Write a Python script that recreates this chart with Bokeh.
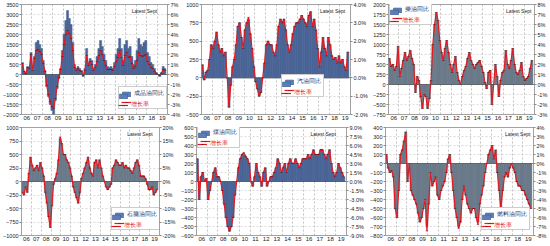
import numpy as np
from bokeh.plotting import figure
from bokeh.models import (Range1d, LinearAxis, FixedTicker, PrintfTickFormatter,
                          Legend, LegendItem, Label, Span)
from bokeh.layouts import column, row
from bokeh.embed import file_html
from bokeh.resources import INLINE

# ---------------- data (bi-monthly samples, Jan 2006 .. Sep 2019) ----------------
YEARS = list(range(2006, 2020))
YEAR_LABELS = ["06", "07", "08", "09", "10", "11", "12", "13", "14", "15", "16", "17", "18", "19"]
SERIES_NAMES = ["成品油同比", "汽油同比", "柴油同比", "石脑油同比", "煤油同比", "燃料油同比"]
RATE_NAME = "增长率"
NOTE = "Latest Sept"

p1_bars = [600, 150, 50, 400, 300, 1100,
           200, 900, 1600, 1700, 1500, 1300,
           700, 200, -600, -1100, -1500, -1800,
           -2000, -1300, -700, -200, 300, 1200,
           2000, 2700, 3200, 2800, 2500, 1600,
           500, 300, 400, 300, 200, -100,
           300, 1300, 600, 800, 700, 300,
           500, 900, 1300, 1700, 1400, 1000,
           700, 400, 350, 400, 300, 600,
           1000, 1300, 1800, 1300, 700, 1500,
           1700, 1300, 1400, 900, 500, 700,
           1200, 1800, 1500, 1400, 1600, 1700,
           1100, 900, 600, 500, 300, 100,
           0, -100, 100, 400, 300]
p1_rate = [1.1, 0.3, 0.1, 0.7, 0.6, 2.0,
           0.4, 1.6, 2.4, 2.5, 2.3, 2.0,
           1.1, 0.3, -1.1, -2.0, -2.7, -3.2,
           -3.4, -2.4, -1.2, -0.3, 0.5, 1.8,
           3.0, 4.0, 4.4, 4.1, 3.6, 2.4,
           0.7, 0.4, 0.6, 0.4, 0.3, -0.1,
           0.4, 1.9, 0.9, 1.3, 1.0, 0.4,
           0.7, 1.3, 1.9, 2.4, 2.0, 1.4,
           0.9, 0.5, 0.5, 0.5, 0.4, 0.8,
           1.3, 1.7, 2.4, 1.7, 0.9, 1.9,
           2.2, 1.7, 1.8, 1.1, 0.6, 0.8,
           1.4, 2.2, 1.9, 1.8, 1.9, 2.0,
           1.3, 1.0, 0.7, 0.6, 0.3, 0.1,
           0.0, -0.1, 0.1, 0.5, 0.4]

p2_bars = [180, -30, 80, 100, 250, 450,
           400, 500, 620, 450, 350, 400,
           300, 350, 0, -400, -100, 150,
           250, 450, 700, 750, 550, 400,
           650, 750, 800, 600, 400, 150,
           -50, -150, -250, -200, 0, 200,
           450, 500, 450, 450, 350, 300,
           450, 700, 800, 750, 800, 650,
           450, 350, 450, 600, 700, 750,
           750, 800, 850, 800, 750, 700,
           850, 900, 700, 800, 650, 400,
           150, 350, 550, 400, 300, 550,
           450, 300, 250, 280, 200, 300,
           200, 250, 150, 100, 350]
p2_rate = [0.7, -0.1, 0.3, 0.4, 1.0, 1.8,
           1.6, 2.0, 2.5, 1.8, 1.4, 1.6,
           1.2, 1.4, 0.0, -1.6, -0.4, 0.6,
           1.0, 1.8, 2.8, 3.0, 2.2, 1.6,
           2.6, 3.0, 3.3, 2.4, 1.6, 0.6,
           -0.2, -0.6, -1.0, -0.8, 0.0, 0.8,
           1.8, 2.0, 1.8, 1.8, 1.4, 1.2,
           1.8, 2.8, 3.2, 3.0, 3.2, 2.6,
           1.8, 1.4, 1.8, 2.4, 2.8, 3.0,
           3.0, 3.2, 3.4, 3.2, 3.0, 2.8,
           3.4, 3.6, 2.8, 3.2, 2.6, 1.6,
           0.6, 1.4, 2.2, 1.6, 1.2, 2.2,
           1.8, 1.2, 1.0, 1.1, 0.8, 1.2,
           0.8, 1.0, 0.6, 0.4, 1.4]

p3_bars = [650, 450, 500, 350, 450, 950,
           200, 400, 600, 800, 600, 700,
           850, 650, 500, -200, 200, 100,
           -300, -600, -250, -300, -600, -350,
           100, 1000, 1500, 1800, 1600, 1100,
           800, 600, 900, 1100, 800, 500,
           300, 500, 700, 300, 100, 0,
           200, 350, 450, 650, 800, 600,
           500, 400, 500, 550, 600, 450,
           300, 50, -100, 300, 350, -500,
           0, 500, 200, -300, 100, 300,
           350, 850, 500, 400, 600, 900,
           500, 300, 250, 350, 550, 200,
           100, 150, 200, 400, 600]
p3_rate = [2.6, 1.8, 2.0, 1.4, 1.8, 3.8,
           0.8, 1.6, 2.4, 3.2, 2.4, 2.8,
           3.4, 2.6, 2.0, -0.8, 0.8, 0.4,
           -1.2, -2.4, -1.0, -1.2, -2.4, -1.4,
           0.4, 4.0, 6.0, 7.2, 6.4, 4.4,
           3.2, 2.4, 3.6, 4.4, 3.2, 2.0,
           1.2, 2.0, 2.8, 1.2, 0.4, 0.0,
           0.8, 1.4, 1.8, 2.6, 3.2, 2.4,
           2.0, 1.6, 2.0, 2.2, 2.4, 1.8,
           1.2, 0.2, -0.4, 1.2, 1.4, -2.0,
           0.0, 2.0, 0.8, -1.2, 0.4, 1.2,
           1.4, 3.4, 2.0, 1.6, 2.4, 3.6,
           2.0, 1.2, 1.0, 1.4, 2.2, 0.8,
           0.4, 0.6, 0.8, 1.6, 2.4]

p4_bars = [-200, -250, -100, -200, 150, 450,
           300, 200, 250, 300, 200, 350,
           250, 100, -200, -400, -650, -850,
           -450, -50, 50, 150, 400, 800,
           700, 500, 500, 400, 350, 250,
           100, -100, -200, -300, -400, -200,
           50, 150, 250, 350, 450, 250,
           150, 100, 350, 400, 250, 400,
           250, 100, 0, -100, -150, -100,
           -50, 250, 300, 400, 350, 300,
           300, 350, 250, 300, 250, 250,
           200, 150, 250, 350, 400, 300,
           100, 100, 100, 50, -50, -150,
           -150, -100, -250, -200, -150]
p4_rate = [-4.0, -5.0, -2.0, -4.0, 3.0, 9.0,
           6.0, 4.0, 5.0, 6.0, 4.0, 7.0,
           5.0, 2.0, -4.0, -8.0, -13.0, -17.0,
           -9.0, -1.0, 1.0, 3.0, 8.0, 16.5,
           14.0, 10.0, 10.0, 8.0, 7.0, 5.0,
           2.0, -2.0, -4.0, -6.0, -8.0, -4.0,
           1.0, 3.0, 5.0, 7.0, 9.0, 5.0,
           3.0, 2.0, 7.0, 8.0, 5.0, 8.0,
           5.0, 2.0, 0.0, -2.0, -3.0, -2.0,
           -1.0, 5.0, 6.0, 8.0, 7.0, 6.0,
           6.0, 7.0, 5.0, 6.0, 5.0, 5.0,
           4.0, 3.0, 5.0, 7.0, 8.0, 6.0,
           2.0, 2.0, 2.0, 1.0, -1.0, -3.0,
           -3.0, -2.0, -5.0, -4.0, -3.0]

p5_bars = [250, -200, 50, 100, 0, 30,
           -200, -100, 0, 100, 150, 50,
           50, 0, -100, -250, -400, -500,
           -550, -500, -400, -150, 0, 150,
           250, 300, 300, 280, 250, 200,
           0, -50, 50, 200, 100, 50,
           -50, 100, 150, -50, 0, 50,
           50, 100, 150, 250, 200, 100,
           150, 200, 100, 200, 250, 200,
           200, 250, 200, 150, 200, 250,
           250, 250, 300, 250, 300, 350,
           300, 300, 300, 350, 350, 300,
           250, 300, 350, 200, 100, 50,
           100, 200, 150, 100, 50]
p5_rate = [3.8, -3.0, 0.8, 1.5, 0.0, 0.5,
           -3.0, -1.5, 0.0, 1.5, 2.3, 0.8,
           0.8, 0.0, -1.5, -3.8, -6.0, -7.5,
           -8.3, -7.5, -6.0, -2.3, 0.0, 2.3,
           3.8, 4.5, 4.8, 4.2, 3.8, 3.0,
           0.0, -0.8, 0.8, 3.0, 1.5, 0.8,
           -0.8, 1.5, 2.3, -0.8, 0.0, 0.8,
           0.8, 1.5, 2.3, 3.8, 3.0, 1.5,
           2.3, 3.0, 1.5, 3.0, 3.8, 3.0,
           3.0, 3.8, 3.0, 2.3, 3.0, 3.8,
           3.8, 3.8, 4.5, 3.8, 4.5, 5.3,
           4.5, 4.5, 4.5, 5.3, 5.3, 4.5,
           3.8, 4.5, 5.3, 3.0, 1.5, 0.8,
           1.5, 3.0, 2.3, 1.5, 0.8]

p6_bars = [100, -50, -100, -80, -150, -500,
           -600, -300, 100, 150, 250, 350,
           -200, 0, -300, -350, -400, -450,
           -550, -650, -600, -500, -400, -700,
           -450, -100, -250, -200, -150, -350,
           -400, -300, -250, -200, -100, 50,
           100, -100, -300, -500, -600, -700,
           -650, -400, -250, -350, -450, -500,
           -550, -500, -500, -600, -650, -450,
           -350, -250, -100, 0, 100, 150,
           200, 50, 150, -100, -300, -500,
           -300, -150, -100, -150, -50, 0,
           -50, -100, -200, -250, -250, -300,
           -300, -350, -400, -450, -500]
p6_rate = [1.0, -0.5, -1.0, -0.8, -1.5, -5.0,
           -6.0, -3.0, 1.0, 1.5, 2.5, 3.5,
           -2.0, 0.0, -3.0, -3.5, -4.0, -4.5,
           -5.5, -6.5, -6.0, -5.0, -4.0, -7.5,
           -4.5, -1.0, -2.5, -2.0, -1.5, -3.5,
           -4.0, -3.0, -2.5, -2.0, -1.0, 0.5,
           1.0, -1.0, -3.0, -5.0, -6.0, -7.2,
           -6.5, -4.0, -2.5, -3.5, -4.5, -5.0,
           -5.5, -5.0, -5.0, -6.0, -6.8, -4.5,
           -3.5, -2.5, -1.0, 0.0, 1.0, 1.5,
           2.0, 0.5, 1.5, -1.0, -3.0, -5.0,
           -3.0, -1.5, -1.0, -1.5, -0.5, 0.0,
           -0.5, -1.0, -2.0, -2.5, -2.5, -3.0,
           -3.0, -3.5, -4.0, -4.5, -5.0]

p1_left_ticks = [-2000, -1500, -1000, -500, 0, 500, 1000, 1500, 2000, 2500, 3000, 3500]
p1_right_ticks = [-4, -3, -2, -1, 0, 1, 2, 3, 4, 5, 6, 7]
p2_left_ticks = [-500, -250, 0, 250, 500, 750, 1000]
p2_right_ticks = [-2.0, -1.0, 0.0, 1.0, 2.0, 3.0, 4.0]
p3_left_ticks = [-750, -500, -250, 0, 250, 500, 750, 1000, 1250, 1500, 1750, 2000]
p3_right_ticks = [-3, -2, -1, 0, 1, 2, 3, 4, 5, 6, 7, 8]
p4_left_ticks = [-1000, -750, -500, -250, 0, 250, 500, 750, 1000]
p4_right_ticks = [-20, -15, -10, -5, 0, 5, 10, 15, 20]
p5_left_ticks = [-600, -500, -400, -300, -200, -100, 0, 100, 200, 300, 400, 500, 600]
p5_right_ticks = [-9.0, -7.5, -6.0, -4.5, -3.0, -1.5, 0.0, 1.5, 3.0, 4.5, 6.0, 7.5, 9.0]
p6_left_ticks = [-800, -700, -600, -500, -400, -300, -200, -100, 0, 100, 200, 300, 400]
p6_right_ticks = [-8, -7, -6, -5, -4, -3, -2, -1, 0, 1, 2, 3, 4]

# ---------------- styling ----------------
BLUE = "#4A6596"
GREY = "#6B7A8A"
RED = "#E3191F"
SWATCH = "#5B7EBB"
TICK_FONT = "Liberation Sans"
ROW_H = 8
LEG_PAD = 2
LEG_H = 2 * LEG_PAD + 2 * ROW_H


def make_panel(bars, rate, name, lticks, rticks, rfmt, bar_color,
               width, height, borders, legend_xy, note_x):
    n = len(bars)
    xs = 2006 + (2 * np.arange(n) + 1) / 12.0
    p = figure(width=width, height=height,
               x_range=Range1d(YEARS[0], YEARS[-1] + 1),
               y_range=Range1d(lticks[0], lticks[-1]),
               output_backend="svg", toolbar_location=None,
               min_border_left=borders[0], min_border_right=borders[1],
               min_border_top=borders[2], min_border_bottom=borders[3])
    p.extra_y_ranges = {"r": Range1d(rticks[0], rticks[-1])}
    p.background_fill_color = "white"
    p.border_fill_color = "white"
    p.outline_line_color = "#8a8a8a"
    p.outline_line_width = 0.8

    rax = LinearAxis(y_range_name="r", ticker=FixedTicker(ticks=rticks),
                     formatter=PrintfTickFormatter(format=rfmt))
    p.add_layout(rax, "right")

    p.yaxis[0].ticker = FixedTicker(ticks=lticks)
    for ax in p.yaxis:
        ax.major_label_text_font = TICK_FONT
        ax.major_label_text_font_size = "5.5px"
        ax.major_label_text_color = "#222222"
        ax.axis_line_color = None
        ax.major_tick_in = 0
        ax.major_tick_out = 2
        ax.major_tick_line_color = "#888888"
        ax.minor_tick_line_color = None
        ax.major_label_standoff = 1

    xa = p.xaxis[0]
    xa.ticker = FixedTicker(ticks=[y + 0.5 for y in YEARS])
    xa.major_label_overrides = {y + 0.5: lab for y, lab in zip(YEARS, YEAR_LABELS)}
    xa.major_label_text_font = TICK_FONT
    xa.major_label_text_font_size = "6px"
    xa.major_label_text_color = "#222222"
    xa.axis_line_color = None
    xa.major_tick_line_color = None
    xa.minor_tick_line_color = None
    xa.major_tick_out = 0
    xa.major_tick_in = 0
    xa.major_label_standoff = 1

    p.xgrid.ticker = FixedTicker(ticks=YEARS[1:])
    p.xgrid.grid_line_color = "#9a9a9a"
    p.xgrid.grid_line_dash = "2 2"
    p.xgrid.grid_line_width = 0.6
    p.ygrid.ticker = FixedTicker(ticks=lticks)
    p.ygrid.grid_line_color = "#c4c4c4"
    p.ygrid.grid_line_dash = "2 2"
    p.ygrid.grid_line_width = 0.6

    # bars slightly overlap so the monthly columns read as one solid mass
    p.vbar(x=xs, top=bars, bottom=0, width=2.4 / 12.0,
           fill_color=bar_color, line_color=bar_color, line_width=0.5)
    p.add_layout(Span(location=0, dimension="width", line_color="#555555", line_width=0.7))
    ln = p.line(xs, rate, y_range_name="r", line_color=RED, line_width=1.2)
    mk = p.scatter(xs, rate, y_range_name="r", marker="dash", size=2.5,
                   line_color="#4a1212", line_width=0.6, line_alpha=0.8)

    # legend proxy for the bar series (zero-size, hidden under the zero line)
    swatch = p.vbar(x=xs[:1], top=[0], bottom=[0], width=0,
                    fill_color=SWATCH, line_color="#3C5A8C", line_width=0.6)

    common = dict(label_text_font=TICK_FONT, label_text_font_size="6px",
                  glyph_width=10, glyph_height=6, label_height=ROW_H, label_standoff=3,
                  margin=0, padding=LEG_PAD, spacing=0)
    lx, ly = legend_xy
    leg1 = Legend(items=[LegendItem(label=name, renderers=[swatch]),
                         LegendItem(label=" ", renderers=[ln, mk])],
                  location=(lx, ly), label_text_color="#1F3A6B",
                  border_line_color="#9a9a9a", border_line_width=0.7,
                  background_fill_color="white", background_fill_alpha=1.0, **common)
    leg2 = Legend(items=[LegendItem(label=" ", renderers=[swatch]),
                         LegendItem(label=RATE_NAME, renderers=[ln, mk])],
                  location=(lx, ly), label_text_color=RED,
                  border_line_color=None, background_fill_alpha=0.0, **common)
    p.add_layout(leg1)
    p.add_layout(leg2)

    ytop = lticks[-1]
    yspan = lticks[-1] - lticks[0]
    p.add_layout(Label(x=note_x, y=ytop - yspan * 0.035, text=NOTE,
                       text_align="right", text_baseline="top",
                       text_font=TICK_FONT, text_font_size="5px", text_color="#222222"))
    return p


H_TOP = 123
H_BOT = 123
FH_TOP = H_TOP - 4 - 9
FH_BOT = H_BOT - 4 - 11

p1 = make_panel(p1_bars, p1_rate, SERIES_NAMES[0], p1_left_ticks, p1_right_ticks, "%d%%", BLUE,
                183, H_TOP, (17, 15, 4, 9), (97, 5), 2019.0)
p2 = make_panel(p2_bars, p2_rate, SERIES_NAMES[1], p2_left_ticks, p2_right_ticks, "%.1f%%", BLUE,
                187, H_TOP, (18, 20, 4, 9), (80, 17), 2019.5)
p3 = make_panel(p3_bars, p3_rate, SERIES_NAMES[2], p3_left_ticks, p3_right_ticks, "%d%%", GREY,
                180, H_TOP, (17, 15, 4, 9), (1, FH_TOP - LEG_H - 1), 2019.7)
p4 = make_panel(p4_bars, p4_rate, SERIES_NAMES[3], p4_left_ticks, p4_right_ticks, "%d%%", GREY,
                178, H_BOT, (17, 13, 4, 11), (90, 5), 2019.3)
p5 = make_panel(p5_bars, p5_rate, SERIES_NAMES[4], p5_left_ticks, p5_right_ticks, "%.1f%%", BLUE,
                188, H_BOT, (15, 18, 4, 11), (1, FH_BOT - LEG_H - 1), 2019.0)
p6 = make_panel(p6_bars, p6_rate, SERIES_NAMES[5], p6_left_ticks, p6_right_ticks, "%d%%", GREY,
                184, H_BOT, (19, 17, 4, 11), (96, 5), 2019.7)

layout = column(row(p1, p2, p3), row(p4, p5, p6))

with open("out.html", "w") as f:
    f.write(file_html(layout, INLINE))
